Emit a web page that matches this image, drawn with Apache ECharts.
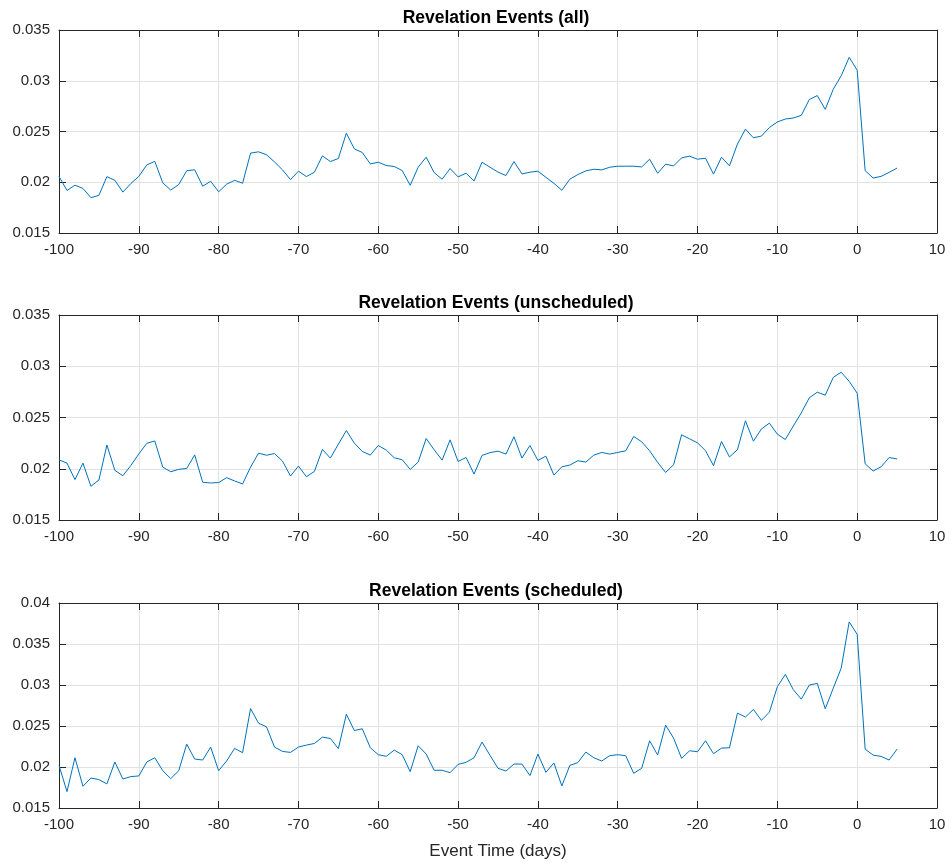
<!DOCTYPE html>
<html>
<head>
<meta charset="utf-8">
<script src="https://cdn.jsdelivr.net/npm/echarts@6/dist/echarts.min.js"></script>
<style>
  html, body { margin: 0; padding: 0; background: #fff; }
  #chart { width: 952px; height: 867px; }
</style>
</head>
<body>
<div id="chart"></div>
<script>
// Event time axis, in days relative to the revelation event
const days = [];
for (let d = -100; d <= 5; d++) days.push(d);

const panelTitles = [
  'Revelation Events (all)',
  'Revelation Events (unscheduled)',
  'Revelation Events (scheduled)'
];

const xTicks = { min: -100, max: 10, step: 10 };
const yRanges = [
  { min: 0.015, max: 0.035, step: 0.005 },
  { min: 0.015, max: 0.035, step: 0.005 },
  { min: 0.015, max: 0.040, step: 0.005 }
];

// All revelation events
const allEvents = [
  0.02058, 0.01919, 0.01971, 0.01939, 0.01848, 0.01871, 0.02055, 0.02019, 0.01903, 0.01987,
  0.02058, 0.02171, 0.02206, 0.01994, 0.01923, 0.01977, 0.02113, 0.02123, 0.01961, 0.02010,
  0.01906, 0.01981, 0.02019, 0.01990, 0.02287, 0.02300, 0.02271, 0.02200, 0.02122, 0.02026,
  0.02109, 0.02056, 0.02099, 0.02260, 0.02204, 0.02234, 0.02484, 0.02329, 0.02293, 0.02181,
  0.02197, 0.02165, 0.02155, 0.02115, 0.01970, 0.02148, 0.02247, 0.02095, 0.02030, 0.02135,
  0.02053, 0.02089, 0.02013, 0.02197, 0.02148, 0.02100, 0.02066, 0.02204, 0.02082, 0.02099,
  0.02109, 0.02049, 0.01990, 0.01921, 0.02030, 0.02076, 0.02112, 0.02128, 0.02122, 0.02148,
  0.02158, 0.02158, 0.02158, 0.02151, 0.02227, 0.02089, 0.02178, 0.02161, 0.02240, 0.02257,
  0.02227, 0.02237, 0.02080, 0.02247, 0.02162, 0.02377, 0.02523, 0.02438, 0.02455, 0.02539,
  0.02594, 0.02623, 0.02633, 0.02659, 0.02815, 0.02854, 0.02718, 0.02916, 0.03049, 0.03231,
  0.03104, 0.02114, 0.02042, 0.02058, 0.02097, 0.02140
];

// Unscheduled revelation events
const unscheduled = [
  0.02087, 0.02055, 0.01894, 0.02055, 0.01829, 0.01890, 0.02232, 0.01984, 0.01932, 0.02032,
  0.02145, 0.02248, 0.02271, 0.02016, 0.01971, 0.01994, 0.02003, 0.02135, 0.01868, 0.01861,
  0.01865, 0.01913, 0.01881, 0.01852, 0.02016, 0.02152, 0.02132, 0.02148, 0.02075, 0.01929,
  0.02026, 0.01922, 0.01974, 0.02188, 0.02104, 0.02240, 0.02373, 0.02250, 0.02169, 0.02133,
  0.02227, 0.02182, 0.02107, 0.02088, 0.01994, 0.02065, 0.02295, 0.02185, 0.02084, 0.02282,
  0.02071, 0.02110, 0.01948, 0.02130, 0.02157, 0.02172, 0.02143, 0.02312, 0.02104, 0.02227,
  0.02081, 0.02123, 0.01938, 0.02019, 0.02036, 0.02078, 0.02065, 0.02133, 0.02159, 0.02143,
  0.02159, 0.02175, 0.02315, 0.02263, 0.02175, 0.02062, 0.01964, 0.02039, 0.02331, 0.02292,
  0.02253, 0.02176, 0.02030, 0.02266, 0.02115, 0.02186, 0.02468, 0.02269, 0.02388, 0.02445,
  0.02337, 0.02285, 0.02417, 0.02545, 0.02692, 0.02747, 0.02718, 0.02891, 0.02942, 0.02853,
  0.02737, 0.02048, 0.01978, 0.02019, 0.02109, 0.02096
];

// Scheduled revelation events
const scheduled = [
  0.02020, 0.01700, 0.02113, 0.01765, 0.01866, 0.01846, 0.01794, 0.02061, 0.01854, 0.01883,
  0.01891, 0.02061, 0.02113, 0.01955, 0.01858, 0.01955, 0.02279, 0.02097, 0.02085, 0.02243,
  0.01955, 0.02073, 0.02227, 0.02174, 0.02713, 0.02534, 0.02490, 0.02243, 0.02190, 0.02178,
  0.02243, 0.02267, 0.02287, 0.02364, 0.02348, 0.02223, 0.02644, 0.02445, 0.02466, 0.02235,
  0.02150, 0.02130, 0.02206, 0.02150, 0.01943, 0.02259, 0.02158, 0.01960, 0.01960, 0.01931,
  0.02032, 0.02057, 0.02113, 0.02304, 0.02142, 0.01984, 0.01951, 0.02036, 0.02036, 0.01895,
  0.02158, 0.01935, 0.02049, 0.01769, 0.02020, 0.02053, 0.02182, 0.02113, 0.02073, 0.02138,
  0.02150, 0.02138, 0.01923, 0.01984, 0.02320, 0.02146, 0.02510, 0.02352, 0.02105, 0.02198,
  0.02186, 0.02320, 0.02162, 0.02230, 0.02234, 0.02657, 0.02609, 0.02702, 0.02569, 0.02669,
  0.02980, 0.03129, 0.02943, 0.02827, 0.03000, 0.03020, 0.02710, 0.02960, 0.03206, 0.03770,
  0.03617, 0.02218, 0.02145, 0.02129, 0.02085, 0.02218
];

const seriesValues = [allEvents, unscheduled, scheduled];

const INK = '#262626';
const GRID = '#e2e2e2';
const LINE = '#0072BD';
const FONT = '"Liberation Sans", Arial, sans-serif';

const gridBoxes = [
  { top: 30, height: 203 },
  { top: 315, height: 205 },
  { top: 603, height: 205 }
];
const titleTops = [4, 289, 577];

const grids = [], xAxes = [], yAxes = [], series = [], titles = [];

gridBoxes.forEach((g, i) => {
  grids.push({ left: 59, right: 15, top: g.top, height: g.height, containLabel: false });

  titles.push({
    text: panelTitles[i],
    left: 491, top: titleTops[i], textAlign: 'center',
    textStyle: { fontFamily: FONT, fontSize: 17.5, fontWeight: 'bold', color: '#000' }
  });

  const xCommon = {
    gridIndex: i, type: 'value',
    min: xTicks.min, max: xTicks.max, interval: xTicks.step,
    axisLine: { show: true, onZero: false, lineStyle: { color: INK, width: 1 } },
    axisTick: { show: true, inside: true, length: 7, lineStyle: { color: INK } }
  };
  xAxes.push(Object.assign({}, xCommon, {
    position: 'bottom',
    axisLabel: { color: INK, fontFamily: FONT, fontSize: 15, margin: 9 },
    splitLine: { show: true, lineStyle: { color: GRID, width: 1 } },
    name: i === 2 ? 'Event Time (days)' : '',
    nameLocation: 'middle', nameGap: 35,
    nameTextStyle: { fontFamily: FONT, fontSize: 17, color: INK }
  }));
  xAxes.push(Object.assign({}, xCommon, {
    position: 'top',
    axisLabel: { show: false },
    splitLine: { show: false }
  }));

  const r = yRanges[i];
  const yCommon = {
    gridIndex: i, type: 'value',
    min: r.min, max: r.max, interval: r.step,
    axisLine: { show: true, onZero: false, lineStyle: { color: INK, width: 1 } },
    axisTick: { show: true, inside: true, length: 7, lineStyle: { color: INK } }
  };
  yAxes.push(Object.assign({}, yCommon, {
    position: 'left',
    axisLabel: {
      color: INK, fontFamily: FONT, fontSize: 15, margin: 9,
      formatter: v => String(parseFloat(v.toFixed(3)))
    },
    splitLine: { show: true, lineStyle: { color: GRID, width: 1 } }
  }));
  yAxes.push(Object.assign({}, yCommon, {
    position: 'right',
    axisLabel: { show: false },
    splitLine: { show: false }
  }));

  series.push({
    type: 'line',
    xAxisIndex: i * 2, yAxisIndex: i * 2,
    data: days.map((d, k) => [d, seriesValues[i][k]]),
    showSymbol: false,
    lineStyle: { color: LINE, width: 1 },
    itemStyle: { color: LINE },
    animation: false,
    silent: true
  });
});

const chart = echarts.init(document.getElementById('chart'), null, { renderer: 'canvas' });
chart.setOption({
  backgroundColor: '#ffffff',
  animation: false,
  title: titles,
  grid: grids,
  xAxis: xAxes,
  yAxis: yAxes,
  series: series
});
</script>
</body>
</html>
